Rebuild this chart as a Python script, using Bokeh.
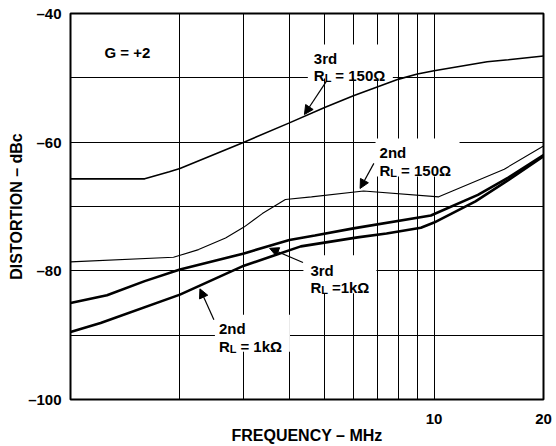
from bokeh.plotting import figure
from bokeh.models import Range1d, FixedTicker, Label, Arrow, NormalHead, BoxAnnotation
from bokeh.embed import file_html
from bokeh.resources import INLINE

# ---------------- data (frequency in MHz, distortion in dBc) ----------------
freq_3rd_150 = [1.0, 1.6, 1.87, 2.0, 3.0, 4.0, 5.0, 6.0, 8.0, 9.0, 10.0, 14.0, 16.0, 20.0]
dist_3rd_150 = [-65.7, -65.7, -64.6, -64.1, -60.0, -57.0, -54.6, -52.8, -50.2, -49.4, -48.9, -47.5, -47.2, -46.6]

freq_2nd_150 = [1.0, 1.92, 2.25, 2.67, 3.0, 3.37, 3.9, 4.6, 6.4, 10.3, 15.6, 20.0]
dist_2nd_150 = [-78.6, -77.9, -76.7, -74.9, -73.2, -71.1, -68.9, -68.5, -67.6, -68.5, -64.2, -60.6]

freq_3rd_1k = [1.0, 1.26, 1.6, 2.0, 3.0, 4.0, 4.7, 6.0, 9.8, 13.2, 16.0, 20.0]
dist_3rd_1k = [-85.0, -83.8, -81.6, -79.8, -77.3, -75.2, -74.5, -73.4, -71.4, -68.2, -65.5, -62.0]

freq_2nd_1k = [1.0, 1.21, 2.0, 3.0, 4.3, 6.16, 7.4, 9.2, 10.0, 13.0, 16.0, 20.0]
dist_2nd_1k = [-89.5, -88.1, -83.7, -79.2, -76.2, -74.8, -74.2, -73.3, -72.5, -69.2, -65.9, -62.2]

x_tick_values = [2, 3, 4, 5, 6, 7, 8, 9, 10, 20]
x_tick_labels = {10: "10", 20: "20"}
y_tick_values = [-100, -90, -80, -70, -60, -50, -40]
y_tick_labels = {-100: "\u2013100", -80: "\u201380", -60: "\u201360", -40: "\u201340"}

FONT = "Liberation Sans"
W, H = 556, 446
BL, BR, BT, BB = 70, 13, 13, 47
X0, X1, Y0, Y1 = 1.0, 20.0, -100.0, -40.0

p = figure(width=W, height=H, x_axis_type="log",
           x_range=Range1d(X0, X1), y_range=Range1d(Y0, Y1),
           output_backend="svg", toolbar_location=None,
           min_border_left=BL, min_border_right=BR, min_border_top=BT, min_border_bottom=BB,
           background_fill_color="white", border_fill_color="white")

p.outline_line_color = "black"
p.outline_line_width = 2
p.outline_line_alpha = 1

# ticks / grid
p.xaxis.ticker = FixedTicker(ticks=x_tick_values)
p.yaxis.ticker = FixedTicker(ticks=y_tick_values)
p.xgrid.ticker = FixedTicker(ticks=x_tick_values)
p.ygrid.ticker = FixedTicker(ticks=y_tick_values)
for g in (p.xgrid, p.ygrid):
    g.grid_line_color = "black"
    g.grid_line_width = 1
    g.grid_line_alpha = 1

p.xaxis.major_label_overrides = {v: x_tick_labels.get(v, "") for v in x_tick_values}
p.yaxis.major_label_overrides = {v: y_tick_labels.get(v, "") for v in y_tick_values}

for ax in (p.xaxis, p.yaxis):
    ax.axis_line_color = None
    ax.major_tick_line_color = None
    ax.minor_tick_line_color = None
    ax.major_tick_out = 0
    ax.major_tick_in = 0
    ax.minor_tick_out = 0
    ax.major_label_text_font = FONT
    ax.major_label_text_font_style = "bold"
    ax.major_label_text_font_size = "15px"
    ax.major_label_text_color = "black"
    ax.axis_label_text_font = FONT
    ax.axis_label_text_font_style = "bold"
    ax.axis_label_text_font_size = "16px"
    ax.axis_label_text_color = "black"

p.xaxis.axis_label = "FREQUENCY \u2013 MHz"
p.yaxis.axis_label = "DISTORTION \u2013 dBc"
p.xaxis.major_label_standoff = 14
p.xaxis.axis_label_standoff = 0
p.yaxis.major_label_standoff = 9
p.yaxis.axis_label_standoff = 0

# curves
p.line(freq_3rd_150, dist_3rd_150, line_color="black", line_width=1.6)
p.line(freq_2nd_150, dist_2nd_150, line_color="black", line_width=1.1)
p.line(freq_3rd_1k, dist_3rd_1k, line_color="black", line_width=2.6)
p.line(freq_2nd_1k, dist_2nd_1k, line_color="black", line_width=2.6)

# pixel scale of the frame (used only to size the white boxes behind the notes)
PX_PER_DECADE = (W - BL - BR) / 1.30103
PX_PER_DB = (H - BT - BB) / (Y1 - Y0)


def txt(x, y, s, size="15px", dx=0, dy=0):
    p.add_layout(Label(x=x, y=y, text=s, x_offset=dx, y_offset=dy,
                       text_font=FONT, text_font_style="bold", text_font_size=size,
                       text_color="black", text_align="left", text_baseline="alphabetic"))


def block(x, y, first, rest, gap, box):
    left, right, up, down = box
    p.add_layout(BoxAnnotation(left=x * 10 ** (left / PX_PER_DECADE),
                               right=x * 10 ** (right / PX_PER_DECADE),
                               top=y + up / PX_PER_DB, bottom=y - down / PX_PER_DB,
                               fill_color="white", fill_alpha=1.0, line_color=None))
    txt(x, y, first)
    txt(x, y, "R", dy=-gap)
    txt(x, y, "L", size="11px", dx=10.8, dy=-gap - 2.5)
    txt(x, y, rest, dx=21.5, dy=-gap)


# G = +2
txt(1.24, -46.1, "G = +2")

# annotation blocks: (freq, dBc) of first-line baseline, box (left, right, up, down) in px
block(4.67, -47.0, "3rd", "= 150\u03a9", 17, (-6, 79, 14, 20))
block(7.08, -61.6, "2nd", "= 150\u03a9", 18, (-4, 80, 14, 24))
block(4.57, -79.9, "3rd", "=1k\u03a9", 17, (-7, 66, 15, 23))
block(2.56, -89.0, "2nd", "= 1k\u03a9", 18, (-4, 71, 14, 23))

# arrows
arrows = [((5.05, -50.6), (4.4, -55.7)),
          ((6.83, -63.3), (6.26, -67.2)),
          ((4.36, -78.7), (3.53, -76.5)),
          ((2.48, -87.6), (2.27, -82.8))]
for (xs, ys), (xe, ye) in arrows:
    p.add_layout(Arrow(x_start=xs, y_start=ys, x_end=xe, y_end=ye,
                       line_color="black", line_width=1.2,
                       end=NormalHead(size=9, fill_color="black", line_color="black", line_width=1)))

open("out.html", "w").write(file_html(p, INLINE))
